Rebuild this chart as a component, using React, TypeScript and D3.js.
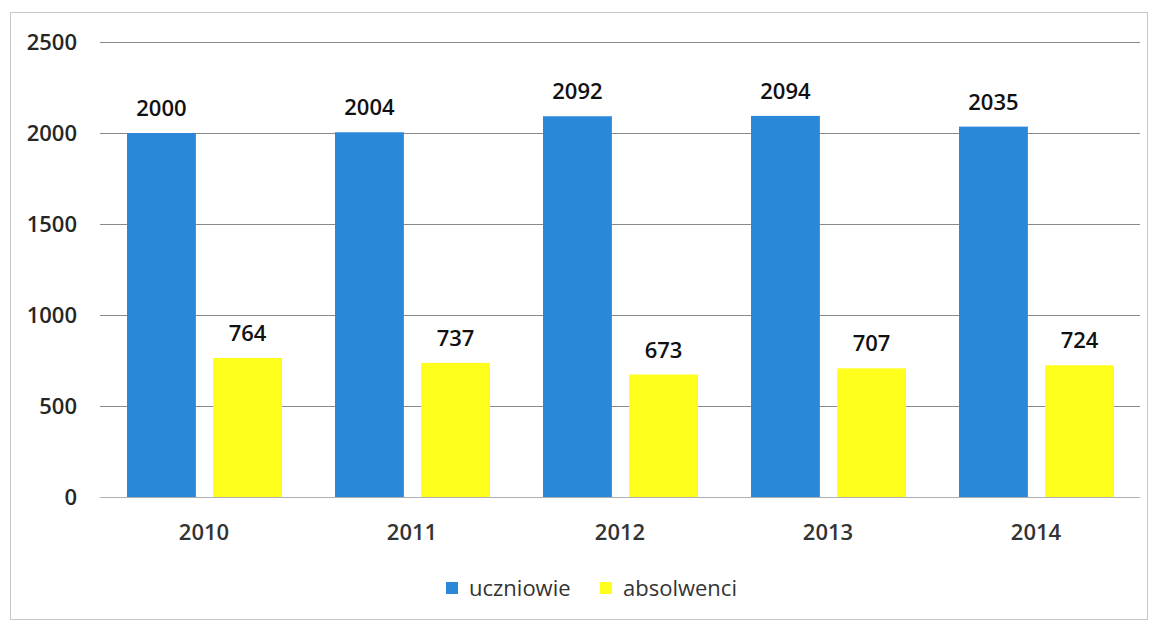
import React, { useRef, useEffect } from 'react';
import * as d3 from 'd3';

const years = ['2010', '2011', '2012', '2013', '2014'];
const uczniowie = [2000, 2004, 2092, 2094, 2035];
const absolwenci = [764, 737, 673, 707, 724];
const seriesNames = ['uczniowie', 'absolwenci'];
const yTicks = [0, 500, 1000, 1500, 2000, 2500];

const App = () => {
  const svgRef = useRef<SVGSVGElement>(null);

  useEffect(() => {
    if (!svgRef.current) return;
    const svg = d3.select(svgRef.current);
    svg.selectAll('*').remove();

    const margin = { top: 42, left: 100 };
    const font = '"Open Sans", "Noto Sans", sans-serif';
    const colors = ['#2b87d8', '#ffff1e'];

    // ramka
    svg.append('rect')
      .attr('x', 10.5).attr('y', 12.5)
      .attr('width', 1137).attr('height', 607)
      .attr('fill', 'white')
      .attr('stroke', '#c8c8c8');

    const g = svg.append('g').attr('transform', `translate(${margin.left},${margin.top})`);
    const w = 1040;

    const x = d3.scaleBand().domain(years).range([0, w]).paddingInner(0).paddingOuter(0);
    const x1 = d3.scaleBand().domain(seriesNames).range([27, x.bandwidth() - 26]).paddingInner(0.2);
    const y = d3.scaleLinear().domain([0, 2500]).range([455, 0]);

    // siatka
    g.append('g')
      .selectAll('line')
      .data(yTicks)
      .enter()
      .append('line')
      .attr('x1', 0).attr('x2', w)
      .attr('y1', d => Math.round(y(d)) + 0.5)
      .attr('y2', d => Math.round(y(d)) + 0.5)
      .attr('stroke', d => (d === 0 ? '#b0b0b0' : '#8a8a8a'))
      .attr('stroke-width', 1);

    g.append('g')
      .selectAll('text')
      .data(yTicks)
      .enter()
      .append('text')
      .attr('x', -23)
      .attr('y', d => y(d))
      .attr('dy', '0.35em')
      .attr('text-anchor', 'end')
      .attr('font-family', font)
      .attr('font-size', 22)
      .attr('font-weight', 600)
      .attr('fill', '#262626')
      .text(d => d.toString());

    const rows = years.map((yr, i) => ({ yr, vals: [uczniowie[i], absolwenci[i]] }));

    const groups = g.selectAll('.grp')
      .data(rows)
      .enter()
      .append('g')
      .attr('transform', d => `translate(${x(d.yr)},0)`);

    groups.selectAll('rect')
      .data(d => d.vals.map((v, k) => ({ v, k })))
      .enter()
      .append('rect')
      .attr('x', d => x1(seriesNames[d.k])!)
      .attr('width', x1.bandwidth())
      .attr('y', d => y(d.v))
      .attr('height', d => y(0) - y(d.v))
      .attr('fill', d => colors[d.k]);

    groups.selectAll('.lbl')
      .data(d => d.vals.map((v, k) => ({ v, k })))
      .enter()
      .append('text')
      .attr('x', d => x1(seriesNames[d.k])! + x1.bandwidth() / 2)
      .attr('y', d => y(d.v) - 17)
      .attr('text-anchor', 'middle')
      .attr('font-family', font)
      .attr('font-size', 22)
      .attr('font-weight', 600)
      .attr('fill', '#111')
      .text(d => d.v.toString());

    // etykiety osi X
    g.append('g')
      .selectAll('text')
      .data(years)
      .enter()
      .append('text')
      .attr('x', d => x(d)! + x.bandwidth() / 2)
      .attr('y', y(0) + 43)
      .attr('text-anchor', 'middle')
      .attr('font-family', font)
      .attr('font-size', 22)
      .attr('font-weight', 600)
      .attr('fill', '#333')
      .text(d => d);

    // legenda
    const legend = svg.append('g').attr('transform', 'translate(446,588)');
    const legX = [0, 154];
    seriesNames.forEach((name, k) => {
      legend.append('rect')
        .attr('x', legX[k]).attr('y', -6)
        .attr('width', 12).attr('height', 12)
        .attr('fill', colors[k]);
      legend.append('text')
        .attr('x', legX[k] + 23)
        .attr('y', 0)
        .attr('dy', '0.35em')
        .attr('font-family', font)
        .attr('font-size', 22)
        .attr('font-weight', 500)
        .attr('fill', '#333')
        .text(name);
    });
  }, []);

  return (
    <div style={{ position: 'absolute', left: 0, top: 0 }}>
      <svg ref={svgRef} width={1155} height={624} style={{ display: 'block' }}></svg>
    </div>
  );
};

export default App;
